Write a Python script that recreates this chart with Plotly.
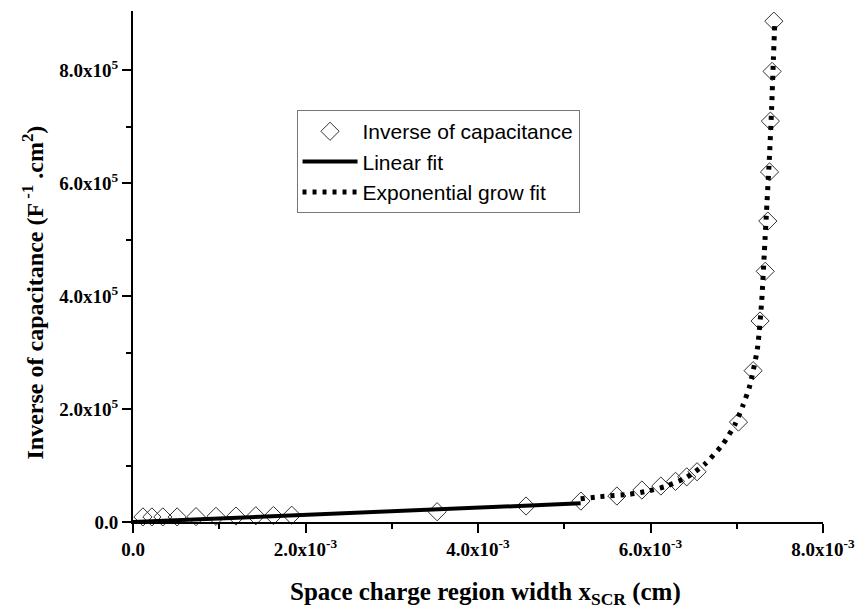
import plotly.graph_objects as go

# Measured data: inverse of capacitance vs space charge region width
x_data = [0.115e-3, 0.219e-3, 0.346e-3, 0.512e-3, 0.731e-3, 0.962e-3, 1.193e-3, 1.424e-3,
          1.628e-3, 1.840e-3, 3.526e-3, 4.557e-3, 5.193e-3, 5.61e-3, 5.90e-3, 6.12e-3,
          6.29e-3, 6.42e-3, 6.54e-3, 7.02e-3, 7.19e-3, 7.27e-3, 7.33e-3, 7.36e-3,
          7.38e-3, 7.39e-3, 7.41e-3, 7.43e-3]
y_data = [0.09e5, 0.09e5, 0.09e5, 0.09e5, 0.095e5, 0.10e5, 0.105e5, 0.11e5,
          0.115e5, 0.12e5, 0.182e5, 0.283e5, 0.37e5, 0.46e5, 0.566e5, 0.637e5,
          0.72e5, 0.80e5, 0.89e5, 1.77e5, 2.68e5, 3.56e5, 4.44e5, 5.33e5,
          6.20e5, 7.10e5, 7.98e5, 8.87e5]

# Linear fit (end points)
lin_x = [0.0, 5.19e-3]
lin_y = [0.0, 0.33e5]

# Exponential grow fit
exp_x = [5.19e-3, 5.41e-3, 5.75e-3, 5.97e-3, 6.19e-3, 6.42e-3, 6.64e-3, 6.84e-3,
         6.98e-3, 7.07e-3, 7.15e-3, 7.24e-3, 7.29e-3, 7.32e-3, 7.35e-3, 7.38e-3,
         7.405e-3, 7.425e-3, 7.44e-3]
exp_y = [0.41e5, 0.448e5, 0.49e5, 0.549e5, 0.637e5, 0.791e5, 1.039e5, 1.381e5,
         1.729e5, 2.058e5, 2.407e5, 3.074e5, 3.93e5, 4.78e5, 5.64e5, 6.50e5,
         7.35e5, 8.21e5, 8.80e5]

x_tickvals = [0, 2e-3, 4e-3, 6e-3, 8e-3]
x_ticktext = ["<b>0.0</b>", "<b>2.0x10<sup>-3</sup></b>", "<b>4.0x10<sup>-3</sup></b>",
              "<b>6.0x10<sup>-3</sup></b>", "<b>8.0x10<sup>-3</sup></b>"]
y_tickvals = [0, 2e5, 4e5, 6e5, 8e5]
y_ticktext = ["<b>0.0</b>", "<b>2.0x10<sup>5</sup></b>", "<b>4.0x10<sup>5</sup></b>",
              "<b>6.0x10<sup>5</sup></b>", "<b>8.0x10<sup>5</sup></b>"]

x_title = "<b>Space charge region width x<sub>SCR</sub> (cm)</b>"
y_title = "<b>Inverse of capacitance (F<sup> -1</sup> .cm<sup>2</sup>)</b>"

fig = go.Figure()
fig.add_trace(go.Scatter(
    x=x_data, y=y_data, mode="markers", name="Inverse of capacitance",
    marker=dict(symbol="diamond-open", size=14, color="#333333", line=dict(width=1)),
    cliponaxis=False))
fig.add_trace(go.Scatter(
    x=lin_x, y=lin_y, mode="lines", name="Linear fit",
    line=dict(color="black", width=4)))
fig.add_trace(go.Scatter(
    x=exp_x, y=exp_y, mode="lines", name="Exponential grow fit",
    line=dict(color="black", width=5, dash="4px,6px", shape="spline", smoothing=0.6)))

tick_font = dict(family="Liberation Serif", size=19, color="black")
fig.update_layout(
    width=866, height=611,
    margin=dict(l=133, r=40, t=11, b=89),
    paper_bgcolor="white", plot_bgcolor="white",
    showlegend=True,
    legend=dict(x=0.237, y=0.806, xanchor="left", yanchor="top",
                bordercolor="#777777", borderwidth=1, bgcolor="white",
                font=dict(family="Liberation Sans", size=21, color="black"),
                itemwidth=55, tracegroupgap=0),
    xaxis=dict(range=[0, 8e-3], tickvals=x_tickvals, ticktext=x_ticktext,
               showline=True, linecolor="black", linewidth=2,
               ticks="outside", ticklen=9, tickwidth=2, tickcolor="black",
               minor=dict(tickvals=[1e-3, 3e-3, 5e-3, 7e-3], ticks="outside",
                          ticklen=5, tickwidth=2, tickcolor="black"),
               showgrid=False, zeroline=False, tickfont=tick_font),
    yaxis=dict(range=[0, 9.05e5], tickvals=y_tickvals, ticktext=y_ticktext,
               showline=True, linecolor="black", linewidth=2,
               ticks="outside", ticklen=9, tickwidth=2, tickcolor="black",
               minor=dict(tickvals=[1e5, 3e5, 5e5, 7e5], ticks="outside",
                          ticklen=5, tickwidth=2, tickcolor="black"),
               showgrid=False, zeroline=False, tickfont=tick_font),
    annotations=[
        dict(text=x_title, xref="paper", yref="paper", x=0.5115, y=-0.139,
             xanchor="center", yanchor="middle", showarrow=False,
             font=dict(family="Liberation Serif", size=25, color="black")),
        dict(text=y_title, xref="paper", yref="paper", x=-0.1443, y=0.45,
             xanchor="center", yanchor="middle", showarrow=False, textangle=-90,
             font=dict(family="Liberation Serif", size=24, color="black")),
    ],
)

fig.write_html("out.html")
